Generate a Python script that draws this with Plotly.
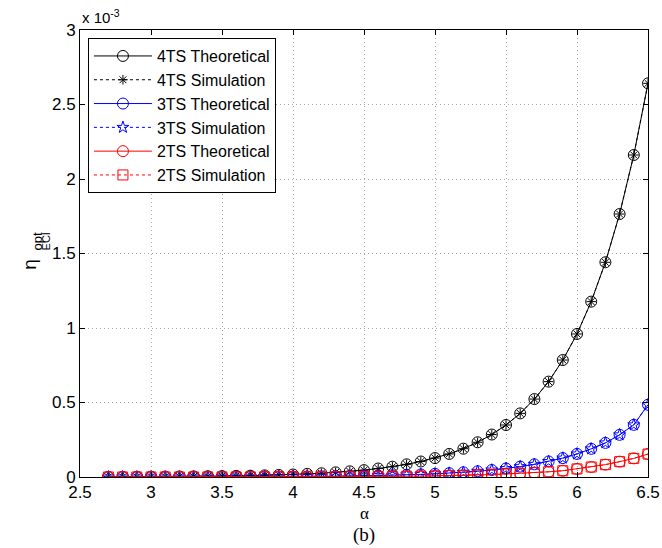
import plotly.graph_objects as go

# alpha values
alpha = [2.7, 2.8, 2.9, 3.0, 3.1, 3.2, 3.3, 3.4, 3.5, 3.6, 3.7, 3.8, 3.9, 4.0,
         4.1, 4.2, 4.3, 4.4, 4.5, 4.6, 4.7, 4.8, 4.9, 5.0, 5.1, 5.2, 5.3, 5.4,
         5.5, 5.6, 5.7, 5.8, 5.9, 6.0, 6.1, 6.2, 6.3, 6.4, 6.5]

# eta values in units of 1e-3
eta_4ts = [0.0012, 0.0015, 0.0018, 0.0022, 0.0027, 0.0033, 0.004, 0.005, 0.006, 0.0075,
           0.009, 0.011, 0.014, 0.017, 0.021, 0.025, 0.031, 0.038, 0.046, 0.057,
           0.069, 0.085, 0.104, 0.127, 0.155, 0.190, 0.233, 0.285, 0.349, 0.427,
           0.523, 0.640, 0.785, 0.960, 1.177, 1.441, 1.765, 2.161, 2.642]
eta_3ts = [0.0002, 0.0003, 0.0003, 0.0004, 0.0005, 0.0006, 0.0007, 0.0009, 0.0011, 0.0013,
           0.0016, 0.0019, 0.0023, 0.0028, 0.0034, 0.0042, 0.0052, 0.0064, 0.0078, 0.0095,
           0.0116, 0.0142, 0.0173, 0.0212, 0.0258, 0.0315, 0.0384, 0.0469, 0.0572, 0.0698,
           0.0851, 0.1040, 0.1270, 0.1550, 0.1890, 0.2290, 0.2830, 0.3500, 0.4850]
eta_2ts = [0.00007, 0.00008, 0.0001, 0.00012, 0.00015, 0.00018, 0.00022, 0.00027,
           0.00033, 0.0004, 0.0005, 0.0006, 0.00075, 0.0009, 0.0011, 0.0014, 0.0017, 0.0021,
           0.0026, 0.0032, 0.0039, 0.0048, 0.0059, 0.0072, 0.0089, 0.011, 0.0135, 0.0166,
           0.0204, 0.0245, 0.0290, 0.035, 0.042, 0.054, 0.067, 0.083, 0.103, 0.125, 0.154]

y_ticks = [0, 0.5, 1, 1.5, 2, 2.5, 3]
x_ticks = [2.5, 3, 3.5, 4, 4.5, 5, 5.5, 6, 6.5]

series = [
    ("4TS Theoretical", eta_4ts, "black", "solid", "circle-open", 11),
    ("4TS Simulation", eta_4ts, "black", "dot", "asterisk-open", 8),
    ("3TS Theoretical", eta_3ts, "blue", "solid", "circle-open", 11),
    ("3TS Simulation", eta_3ts, "blue", "dot", "star-open", 9),
    ("2TS Theoretical", eta_2ts, "red", "solid", "circle-open", 11),
    ("2TS Simulation", eta_2ts, "red", "dot", "square-open", 10),
]

fig = go.Figure()
for name, ys, col, dash, sym, sz in series:
    fig.add_trace(go.Scatter(
        x=alpha, y=ys, name=name, mode="lines+markers",
        line=dict(color=col, width=1, dash=dash),
        marker=dict(symbol=sym, size=sz, color=col, line=dict(color=col, width=1)),
    ))

axis_common = dict(
    showline=True, linecolor="black", linewidth=1, mirror="ticks",
    ticks="inside", ticklen=5, tickcolor="black",
    showgrid=True, gridcolor="#a8a8a8", griddash="1px,3px", gridwidth=1,
    zeroline=False, automargin=False,
    tickfont=dict(family="Liberation Sans", size=17, color="black"),
)
fig.update_xaxes(range=[2.5, 6.5], tickvals=x_ticks, **axis_common)
fig.update_yaxes(range=[0, 3], tickvals=y_ticks, **axis_common)

fig.update_layout(
    width=662, height=548,
    margin=dict(l=80, r=14, t=30, b=71),
    plot_bgcolor="white", paper_bgcolor="white",
    font=dict(family="Liberation Sans", color="black"),
    legend=dict(
        x=0.014, y=0.982, xanchor="left", yanchor="top",
        bgcolor="white", bordercolor="black", borderwidth=1,
        font=dict(family="Liberation Sans", size=16, color="black"),
        tracegroupgap=0, itemwidth=58,
    ),
    showlegend=True,
)

anns = [
    dict(text="x 10<sup>-3</sup>", x=0, y=1, xref="paper", yref="paper",
         xanchor="left", yanchor="bottom", yshift=2, showarrow=False,
         font=dict(family="Liberation Sans", size=15)),
    dict(text="α", x=0.5, y=0, xref="paper", yref="paper", xanchor="center",
         yanchor="top", yshift=-25, showarrow=False,
         font=dict(family="Liberation Serif", size=17)),
    dict(text="(b)", x=0.5, y=0, xref="paper", yref="paper", xanchor="center",
         yanchor="top", yshift=-45, showarrow=False,
         font=dict(family="Liberation Serif", size=19)),
    dict(text="η", x=0, y=0.475, xref="paper", yref="paper", xanchor="center",
         yanchor="middle", xshift=-50, textangle=-90, showarrow=False,
         font=dict(family="Liberation Sans", size=19)),
    dict(text="opt", x=0, y=0.527, xref="paper", yref="paper", xanchor="center",
         yanchor="middle", xshift=-43, textangle=-90, showarrow=False,
         font=dict(family="Liberation Sans", size=13)),
    dict(text="ECI", x=0, y=0.527, xref="paper", yref="paper", xanchor="center",
         yanchor="middle", xshift=-34, textangle=-90, showarrow=False,
         font=dict(family="Liberation Sans", size=11)),
]
fig.update_layout(annotations=anns)

fig.write_html("out.html")
